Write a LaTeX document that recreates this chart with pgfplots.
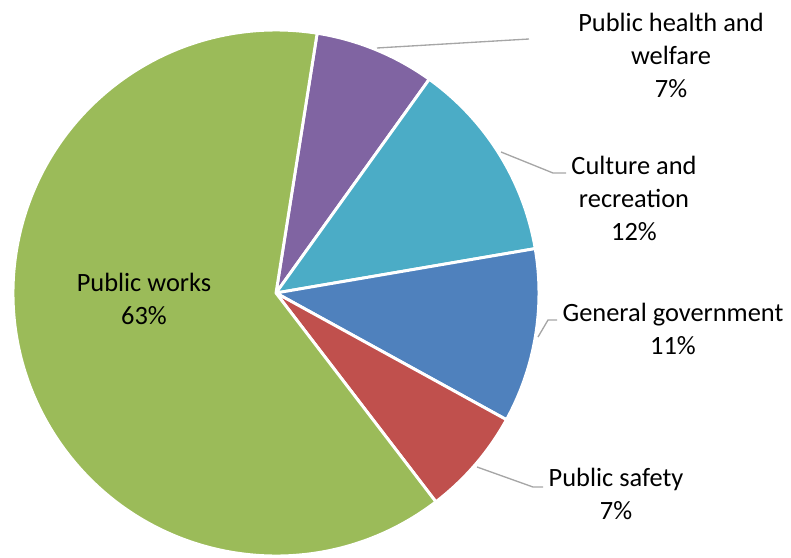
\documentclass[border=0pt]{standalone}
\usepackage{pgfplots}
\usepackage{pgfplotstable}
\usepackage{fontspec}
\setmainfont{Carlito}
\pgfplotsset{compat=1.18}

\definecolor{piepurple}{HTML}{8064A2}
\definecolor{pieteal}{HTML}{4BACC6}
\definecolor{pieblue}{HTML}{4F81BD}
\definecolor{piered}{HTML}{C0504D}
\definecolor{piegreen}{HTML}{9BBB59}
\definecolor{leader}{HTML}{A6A6A6}

% shares in percent, clockwise from the top
\pgfplotstableread{
row value
0 7.4
1 12.4
2 10.7
3 6.6
4 62.9
}\piedata

\begin{document}
\begin{tikzpicture}
\fontsize{19.8}{24.75}\selectfont
% build the wedges (centre 276,264 in pixel units, radius 263 px = 197.25pt)
\xdef\cum{81}
\gdef\pieslices{}
\foreach \i/\col in {0/piepurple,1/pieteal,2/pieblue,3/piered,4/piegreen}{
  \pgfplotstablegetelem{\i}{value}\of\piedata
  \pgfmathsetmacro\sweep{3.6*\pgfplotsretval}
  \pgfmathsetmacro\endang{\cum-\sweep}
  \xdef\pieslices{\unexpanded\expandafter{\pieslices}%
    \noexpand\filldraw[fill=\col,draw=white,line width=2.2pt,line join=round]
    (axis cs:276,264) -- ++(\cum:197.25pt)
    arc[start angle=\cum,end angle=\endang,radius=197.25pt] -- cycle;}
  \xdef\cum{\endang}
}
\begin{axis}[
  width=593.25pt, height=417.75pt, scale only axis,
  xmin=0, xmax=791, ymin=0, ymax=557,
  hide axis, clip=false,
]
\pieslices
% leader lines
\draw[leader, line width=1pt] (axis cs:377,509) -- (axis cs:529,518);
\draw[leader, line width=1pt] (axis cs:501,405) -- (axis cs:553,384) -- (axis cs:566,384);
\draw[leader, line width=1pt] (axis cs:538,220) -- (axis cs:548,237) -- (axis cs:557,237);
\draw[leader, line width=1pt] (axis cs:477,90) -- (axis cs:533,70) -- (axis cs:543,70);
% labels
\node[align=center] at (axis cs:671,502) {Public health and\\welfare\\7\%};
\node[align=center] at (axis cs:634,359) {Culture and\\recreation\\12\%};
\node[align=center] at (axis cs:673,228.5) {General government\\11\%};
\node[align=center] at (axis cs:616,63.5) {Public safety\\7\%};
\node[align=center] at (axis cs:144,258.5) {Public works\\63\%};
\coordinate (bl) at (axis cs:0,0);
\coordinate (tr) at (axis cs:791,557);
\end{axis}
\pgfresetboundingbox
\path[use as bounding box] (bl) rectangle (tr);
\end{tikzpicture}
\end{document}
